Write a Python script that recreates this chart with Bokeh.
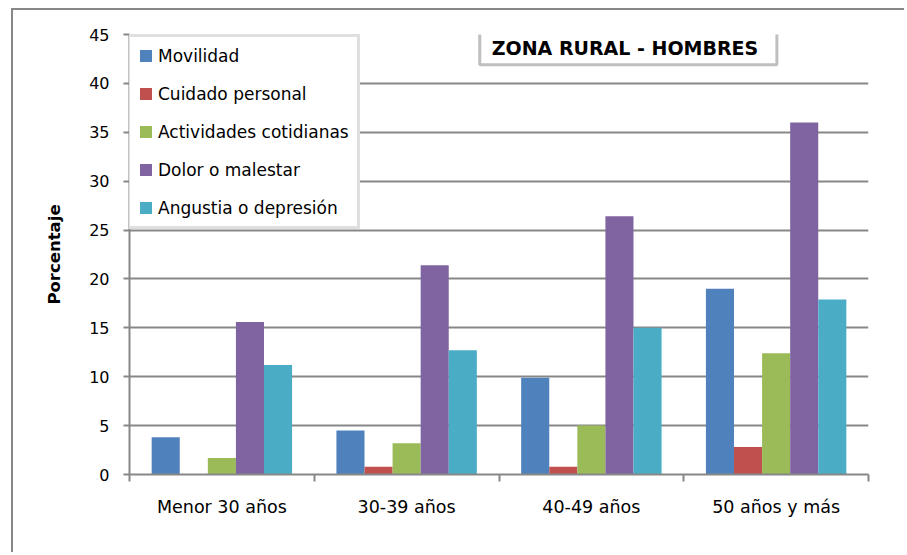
import numpy as np
from bokeh.plotting import figure
from bokeh.models import Range1d, FixedTicker, Label
from bokeh.embed import file_html
from bokeh.resources import INLINE

categories = ["Menor 30 años", "30-39 años", "40-49 años", "50 años y más"]
series_names = ["Movilidad", "Cuidado personal", "Actividades cotidianas",
                "Dolor o malestar", "Angustia o depresión"]
movilidad = [3.8, 4.5, 9.9, 19.0]
cuidado = [0.0, 0.8, 0.8, 2.8]
actividades = [1.7, 3.2, 5.0, 12.4]
dolor = [15.6, 21.4, 26.4, 36.0]
angustia = [11.2, 12.7, 15.0, 17.9]
y_ticks = [0, 5, 10, 15, 20, 25, 30, 35, 40, 45]
title_text = "ZONA RURAL  - HOMBRES"
y_label = "Porcentaje"

colors = ["#4F81BD", "#C0504D", "#9BBB59", "#8064A2", "#4BACC6"]
values = [movilidad, cuidado, actividades, dolor, angustia]

FONT = "DejaVu Sans"
GRAY = "#878787"

p = figure(width=893, height=544, output_backend="svg", toolbar_location=None,
           x_range=Range1d(0, len(categories)), y_range=Range1d(0, 45),
           min_border_left=116, min_border_top=24, min_border_right=38,
           min_border_bottom=80)
p.styles = {"border-left": f"2px solid {GRAY}", "border-top": f"2px solid {GRAY}",
            "margin-left": "11px", "margin-top": "8px"}
p.outline_line_color = None
p.background_fill_color = "white"
p.border_fill_color = "white"

centers = np.arange(len(categories)) + 0.5
bw = 0.152
offsets = (np.arange(len(series_names)) - 2) * bw
for name, vals, col, off in zip(series_names, values, colors, offsets):
    p.vbar(x=centers + off, top=vals, width=bw, bottom=0, fill_color=col,
           line_color=None, legend_label=name)

# axes
p.xaxis.ticker = FixedTicker(ticks=list(centers),
                             minor_ticks=list(np.arange(len(categories) + 1)))
p.xaxis.major_label_overrides = {float(c): cat for c, cat in zip(centers, categories)}
p.xaxis.major_tick_out = 0
p.xaxis.major_tick_in = 0
p.xaxis.minor_tick_out = 7
p.xaxis.minor_tick_in = 0
p.xaxis.minor_tick_line_color = GRAY
p.xaxis.minor_tick_line_width = 2
p.xaxis.axis_line_color = GRAY
p.xaxis.axis_line_width = 2
p.xaxis.major_label_standoff = 15
p.xaxis.major_label_text_font = FONT
p.xaxis.major_label_text_font_size = "17.5px"
p.xaxis.major_label_text_color = "#000000"

p.yaxis.ticker = FixedTicker(ticks=y_ticks)
p.yaxis.minor_tick_line_color = None
p.yaxis.major_tick_out = 6
p.yaxis.major_tick_in = 0
p.yaxis.major_tick_line_color = GRAY
p.yaxis.major_tick_line_width = 2
p.yaxis.axis_line_color = GRAY
p.yaxis.axis_line_width = 2
p.yaxis.major_label_standoff = 14
p.yaxis.major_label_text_font = FONT
p.yaxis.major_label_text_font_size = "16px"
p.yaxis.major_label_text_color = "#000000"
p.yaxis.axis_label = y_label
p.yaxis.axis_label_text_font = FONT
p.yaxis.axis_label_text_font_style = "bold"
p.yaxis.axis_label_text_font_size = "16.5px"
p.yaxis.axis_label_text_color = "#000000"
p.yaxis.axis_label_standoff = 22

p.xgrid.grid_line_color = None
p.ygrid.grid_line_color = GRAY
p.ygrid.grid_line_width = 2

# legend
lg = p.legend[0]
lg.location = (-2, 245)
lg.border_line_color = "#BFBFBF"
lg.border_line_width = 3
lg.background_fill_color = "white"
lg.background_fill_alpha = 1
lg.padding = 8
lg.margin = 0
lg.spacing = 17
lg.label_height = 21
lg.glyph_height = 15
lg.glyph_width = 15
lg.label_standoff = 5
lg.label_text_font = FONT
lg.label_text_font_size = "17px"
lg.label_text_color = "#000000"

title = Label(x=2.70, y=43.65, text=title_text, text_align="center",
              text_baseline="middle", text_font=FONT, text_font_style="bold",
              text_font_size="19px", text_color="#000000",
              background_fill_color="white", border_line_color="#BFBFBF",
              border_line_width=3,
              padding=dict(left=12, right=12, top=6, bottom=6))
p.add_layout(title)

open("out.html", "w").write(file_html(p, INLINE))
